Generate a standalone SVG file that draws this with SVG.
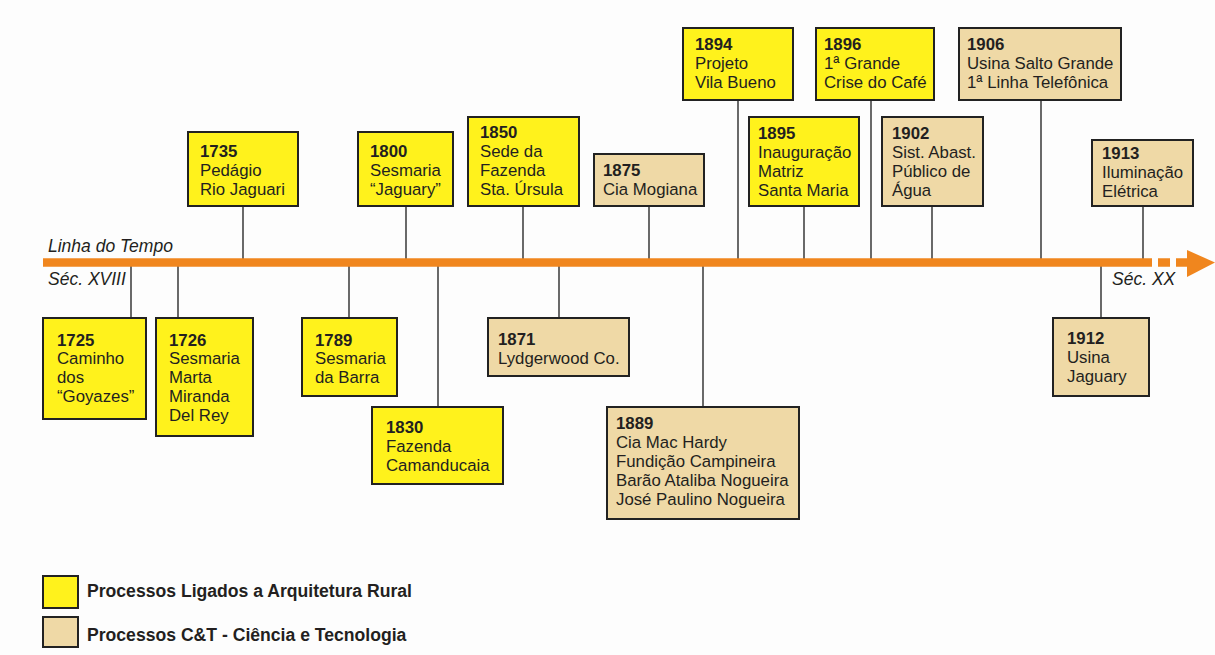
<svg xmlns="http://www.w3.org/2000/svg" width="1215" height="655" viewBox="0 0 1215 655">
  <style>
    text { font-family: "Liberation Sans", Arial, sans-serif; fill: #231f20; }
    .t { font-size: 16.8px; }
    .yr { font-weight: bold; }
    .rural { fill: #fff21c; stroke: #222; stroke-width: 2; }
    .ct { fill: #efd9a6; stroke: #222; stroke-width: 2; }
    .link { stroke: #444; stroke-width: 1.6; fill: none; }
    .era { font-size: 17.5px; font-style: italic; }
    .leg { font-size: 17.6px; font-weight: bold; }
  </style>
  <rect width="1215" height="655" fill="#fdfdfd"/>

  <!-- connectors from each event to the time axis -->
  <g id="connectors">
    <line class="link" x1="243" y1="206" x2="243" y2="263"/>
    <line class="link" x1="406" y1="206" x2="406" y2="263"/>
    <line class="link" x1="523" y1="206" x2="523" y2="263"/>
    <line class="link" x1="649" y1="206" x2="649" y2="263"/>
    <line class="link" x1="738" y1="100" x2="738" y2="263"/>
    <line class="link" x1="804" y1="206" x2="804" y2="263"/>
    <line class="link" x1="871" y1="100" x2="871" y2="263"/>
    <line class="link" x1="932" y1="206" x2="932" y2="263"/>
    <line class="link" x1="1041" y1="100" x2="1041" y2="263"/>
    <line class="link" x1="1143" y1="206" x2="1143" y2="263"/>
    <line class="link" x1="131" y1="263" x2="131" y2="318"/>
    <line class="link" x1="178" y1="263" x2="178" y2="318"/>
    <line class="link" x1="349" y1="263" x2="349" y2="318"/>
    <line class="link" x1="438" y1="263" x2="438" y2="407"/>
    <line class="link" x1="559" y1="263" x2="559" y2="318"/>
    <line class="link" x1="703" y1="263" x2="703" y2="407"/>
    <line class="link" x1="1101" y1="263" x2="1101" y2="318"/>
  </g>

  <!-- time axis -->
  <g id="axis">
    <line x1="43" y1="262.5" x2="1140" y2="262.5" stroke="#f0861e" stroke-width="8.5"/>
    <line x1="1140" y1="262.5" x2="1187" y2="262.5" stroke="#f0861e" stroke-width="8.5" stroke-dasharray="12 6"/>
    <polygon points="1187,250 1215,262.5 1187,277" fill="#f0861e"/>
    <text class="era" x="48" y="252">Linha do Tempo</text>
    <text class="era" x="48" y="285">Séc. XVIII</text>
    <text class="era" x="1112" y="285">Séc. XX</text>
  </g>

  <!-- events above the axis -->
  <g id="e1735">
    <rect class="rural" x="188" y="132" width="110" height="74"/>
    <text class="t"><tspan class="yr" x="200" y="157">1735</tspan><tspan x="200" y="176">Pedágio</tspan><tspan x="200" y="195">Rio Jaguari</tspan></text>
  </g>
  <g id="e1800">
    <rect class="rural" x="358" y="132" width="95" height="74"/>
    <text class="t"><tspan class="yr" x="370" y="157">1800</tspan><tspan x="370" y="176">Sesmaria</tspan><tspan x="370" y="195">“Jaguary”</tspan></text>
  </g>
  <g id="e1850">
    <rect class="rural" x="468" y="117" width="111" height="89"/>
    <text class="t"><tspan class="yr" x="480" y="138">1850</tspan><tspan x="480" y="157">Sede da</tspan><tspan x="480" y="176">Fazenda</tspan><tspan x="480" y="195">Sta. Úrsula</tspan></text>
  </g>
  <g id="e1875">
    <rect class="ct" x="594" y="154" width="110" height="52"/>
    <text class="t"><tspan class="yr" x="603" y="176">1875</tspan><tspan x="603" y="195">Cia Mogiana</tspan></text>
  </g>
  <g id="e1894">
    <rect class="rural" x="683" y="28" width="110" height="72"/>
    <text class="t"><tspan class="yr" x="695" y="50">1894</tspan><tspan x="695" y="69">Projeto</tspan><tspan x="695" y="88">Vila Bueno</tspan></text>
  </g>
  <g id="e1895">
    <rect class="rural" x="749" y="117" width="110" height="89"/>
    <text class="t"><tspan class="yr" x="758" y="139">1895</tspan><tspan x="758" y="158">Inauguração</tspan><tspan x="758" y="177">Matriz</tspan><tspan x="758" y="196">Santa Maria</tspan></text>
  </g>
  <g id="e1896">
    <rect class="rural" x="816" y="28" width="118" height="72"/>
    <text class="t"><tspan class="yr" x="824" y="50">1896</tspan><tspan x="824" y="69">1ª Grande</tspan><tspan x="824" y="88">Crise do Café</tspan></text>
  </g>
  <g id="e1902">
    <rect class="ct" x="882" y="117" width="101" height="89"/>
    <text class="t"><tspan class="yr" x="892" y="139">1902</tspan><tspan x="892" y="158">Sist. Abast.</tspan><tspan x="892" y="177">Público de</tspan><tspan x="892" y="196">Água</tspan></text>
  </g>
  <g id="e1906">
    <rect class="ct" x="959" y="28" width="162" height="72"/>
    <text class="t"><tspan class="yr" x="967" y="50">1906</tspan><tspan x="967" y="69">Usina Salto Grande</tspan><tspan x="967" y="88">1ª Linha Telefônica</tspan></text>
  </g>
  <g id="e1913">
    <rect class="ct" x="1092" y="140" width="101" height="66"/>
    <text class="t"><tspan class="yr" x="1102" y="159">1913</tspan><tspan x="1102" y="178">Iluminação</tspan><tspan x="1102" y="197">Elétrica</tspan></text>
  </g>

  <!-- events below the axis -->
  <g id="e1725">
    <rect class="rural" x="43" y="318" width="103" height="101"/>
    <text class="t"><tspan class="yr" x="57" y="346">1725</tspan><tspan x="57" y="364">Caminho</tspan><tspan x="57" y="383">dos</tspan><tspan x="57" y="402">“Goyazes”</tspan></text>
  </g>
  <g id="e1726">
    <rect class="rural" x="156" y="318" width="97" height="118"/>
    <text class="t"><tspan class="yr" x="169" y="346">1726</tspan><tspan x="169" y="364">Sesmaria</tspan><tspan x="169" y="383">Marta</tspan><tspan x="169" y="402">Miranda</tspan><tspan x="169" y="421">Del Rey</tspan></text>
  </g>
  <g id="e1789">
    <rect class="rural" x="302" y="318" width="95" height="78"/>
    <text class="t"><tspan class="yr" x="315" y="346">1789</tspan><tspan x="315" y="364">Sesmaria</tspan><tspan x="315" y="383">da Barra</tspan></text>
  </g>
  <g id="e1830">
    <rect class="rural" x="372" y="407" width="131" height="77"/>
    <text class="t"><tspan class="yr" x="386" y="433">1830</tspan><tspan x="386" y="452">Fazenda</tspan><tspan x="386" y="471">Camanducaia</tspan></text>
  </g>
  <g id="e1871">
    <rect class="ct" x="488" y="318" width="141" height="58"/>
    <text class="t"><tspan class="yr" x="498" y="345">1871</tspan><tspan x="498" y="364">Lydgerwood Co.</tspan></text>
  </g>
  <g id="e1889">
    <rect class="ct" x="607" y="407" width="192" height="112"/>
    <text class="t"><tspan class="yr" x="616" y="429">1889</tspan><tspan x="616" y="448">Cia Mac Hardy</tspan><tspan x="616" y="467">Fundição Campineira</tspan><tspan x="616" y="486">Barão Ataliba Nogueira</tspan><tspan x="616" y="505">José Paulino Nogueira</tspan></text>
  </g>
  <g id="e1912">
    <rect class="ct" x="1053" y="318" width="96" height="78"/>
    <text class="t"><tspan class="yr" x="1067" y="344">1912</tspan><tspan x="1067" y="363">Usina</tspan><tspan x="1067" y="382">Jaguary</tspan></text>
  </g>

  <!-- legend -->
  <g id="legend">
    <rect class="rural" x="43" y="576" width="35" height="32"/>
    <text class="leg" x="87" y="597">Processos Ligados a Arquitetura Rural</text>
    <rect class="ct" x="43" y="617" width="35" height="30"/>
    <text class="leg" x="87" y="641">Processos C&amp;T - Ciência e Tecnologia</text>
  </g>
</svg>
